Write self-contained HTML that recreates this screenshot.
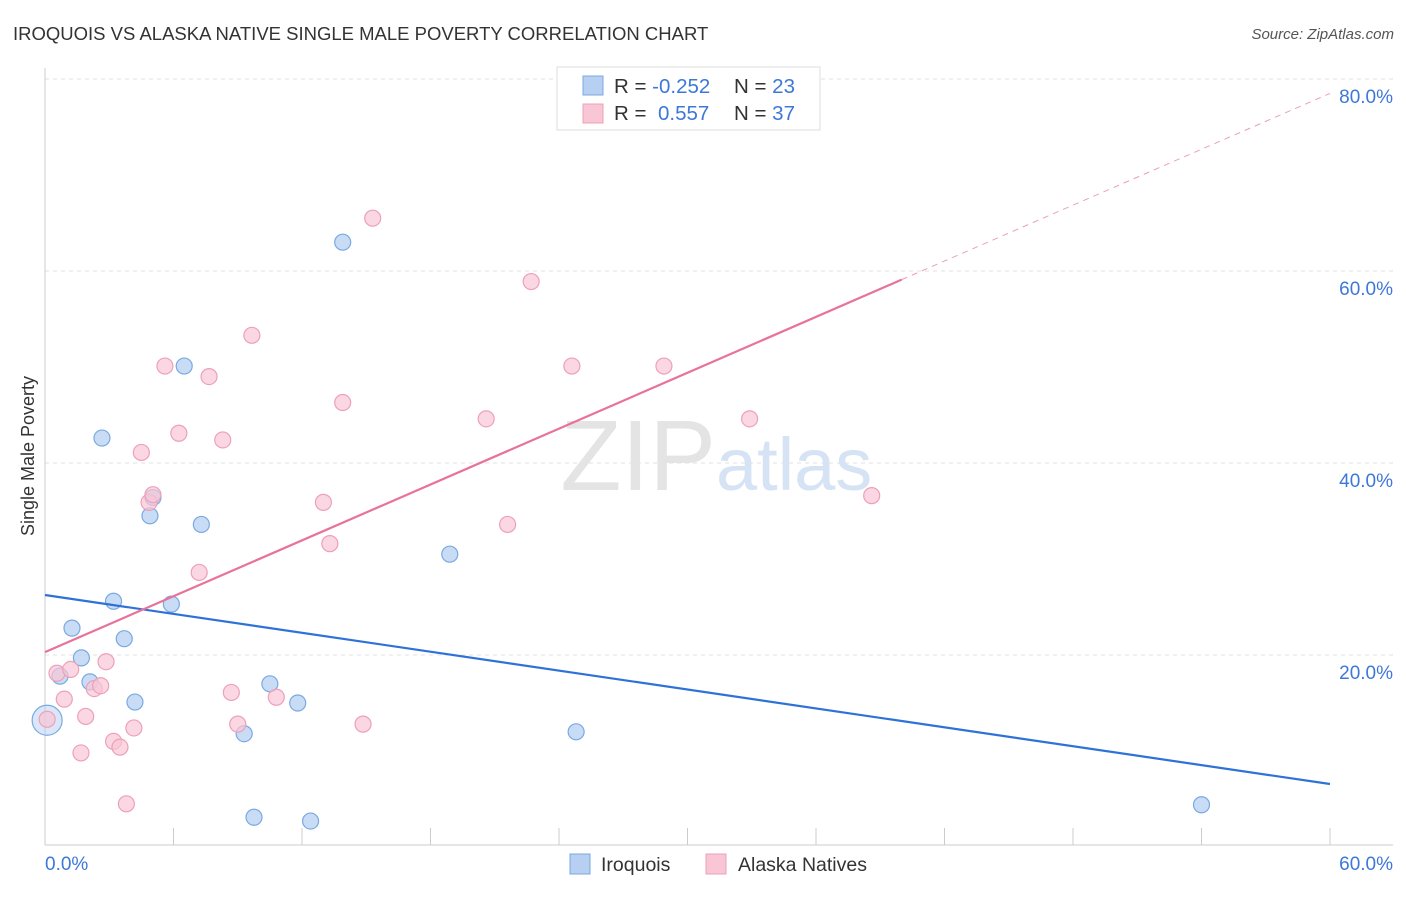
<!DOCTYPE html>
<html><head><meta charset="utf-8"><style>
body{margin:0;background:#fff;font-family:"Liberation Sans",sans-serif;}
svg text{font-family:"Liberation Sans",sans-serif;}
</style></head><body>
<svg id="chart" width="1406" height="892" xmlns="http://www.w3.org/2000/svg">
<text x="13" y="40" font-size="18.5" fill="#333">IROQUOIS VS ALASKA NATIVE SINGLE MALE POVERTY CORRELATION CHART</text>
<text x="1394" y="39" font-size="15" fill="#555" text-anchor="end" font-style="italic">Source: ZipAtlas.com</text>
<g id="grid"></g>
<text x="716" y="490" font-size="100" fill="#e4e4e4" text-anchor="end" font-family="Liberation Serif">ZIP</text>
<text x="716" y="490" font-size="74" fill="#d5e3f5">atlas</text>
<g id="marks"></g>
<text transform="translate(34,456) rotate(-90)" font-size="18" fill="#333" text-anchor="middle">Single Male Poverty</text>
<g>
<rect x="557" y="67" width="263" height="63" fill="#fff" stroke="#ddd"/>
<rect x="583" y="76" width="20" height="19" fill="#b7d0f2" stroke="#7aa9e2"/>
<rect x="583" y="104" width="20" height="19" fill="#f8c6d5" stroke="#eea0b8"/>
<text x="614" y="93" font-size="20.5" fill="#333">R = <tspan fill="#3d78d8">-0.252</tspan><tspan x="734">N = </tspan><tspan fill="#3d78d8">23</tspan></text>
<text x="614" y="120" font-size="20.5" fill="#333">R = <tspan x="658" fill="#3d78d8">0.557</tspan><tspan x="734">N = </tspan><tspan fill="#3d78d8">37</tspan></text>
</g>
<g>
<rect x="570" y="854" width="20" height="20" fill="#b7d0f2" stroke="#7aa9e2"/>
<text x="601" y="871" font-size="19.5" fill="#333">Iroquois</text>
<rect x="706" y="854" width="20" height="20" fill="#f8c6d5" stroke="#eea0b8"/>
<text x="738" y="871" font-size="19.5" fill="#333">Alaska Natives</text>
</g>
</svg>
<script>
const yTicks=[20,40,60,80];
const xTickLabels=["0.0%","60.0%"];
const iroX=[0.1,0.7,1.26,1.7,2.1,2.66,3.2,3.7,4.2,4.9,5.04,5.9,6.5,7.3,9.3,9.76,10.5,11.8,12.4,13.9,18.9,24.8,54.0];
const iroY=[13.2,17.8,22.8,19.7,17.2,42.6,25.6,21.7,15.1,34.5,36.4,25.3,50.1,33.6,11.8,3.1,17.0,15.0,2.7,63.0,30.5,12.0,4.4];
const akX=[0.1,0.56,0.9,1.2,1.68,1.9,2.3,2.6,2.85,3.2,3.5,3.8,4.15,4.5,4.86,5.04,5.6,6.25,7.2,7.66,8.3,8.7,9.0,9.66,10.8,13.0,13.3,13.9,14.85,15.3,20.6,21.6,22.7,24.6,28.9,32.9,38.6];
const akY=[13.3,18.1,15.4,18.5,9.8,13.6,16.5,16.8,19.3,11.0,10.4,4.5,12.4,41.1,35.9,36.7,50.1,43.1,28.6,49.0,42.4,16.1,12.8,53.3,15.6,35.9,31.6,46.3,12.8,65.5,44.6,33.6,58.9,50.1,50.1,44.6,36.6];
const iroTrend=[26.25,6.56];
const akTrend=[20.3,78.5];
const NS="http://www.w3.org/2000/svg";
const X=v=>45+v*(1285/60), Y=v=>847-v*9.6;
function mk(t,a,p){const e=document.createElementNS(NS,t);for(const k in a)e.setAttribute(k,a[k]);p.appendChild(e);return e;}
const g=document.getElementById('grid'), m=document.getElementById('marks');
yTicks.forEach(t=>{
 const l=mk('line',{x1:45,x2:1393,y1:Y(t),y2:Y(t),stroke:'#e2e2e2','stroke-dasharray':'4,4'},g);
 
 
 const tx=mk('text',{x:1393,y:Y(t)+24,'font-size':19,fill:'#3d78d8','text-anchor':'end'},g);
 tx.textContent=t.toFixed(1)+'%';
 
 
});
mk('line',{x1:45,x2:45,y1:68,y2:845,stroke:'#ccc'},g);
mk('line',{x1:45,x2:1393,y1:845,y2:845,stroke:'#ccc'},g);
for(let i=0;i<=10;i++){const l=mk('line',{x1:X(i*6),x2:X(i*6),y1:828,y2:845,stroke:'#ccc'},g);
 
 }
xTickLabels.forEach((s,i)=>{const tx=mk('text',{x:i?1393:45,y:870,'font-size':19,fill:'#3d78d8','text-anchor':i?'end':'start'},g);tx.textContent=s;
 
 });
iroX.forEach((x,i)=>{const c=mk('circle',{cx:X(x),cy:Y(iroY[i]),r:i===0?15:8,fill:'#b7d0f2','fill-opacity':i===0?0.5:0.75,stroke:'#7aa9e2','stroke-width':1.2},m);
 
 });
akX.forEach((x,i)=>{const c=mk('circle',{cx:X(x),cy:Y(akY[i]),r:8,fill:'#f8c6d5','fill-opacity':0.7,stroke:'#eea0b8','stroke-width':1.2},m);
 
 });
const ay=x=>akTrend[0]+(akTrend[1]-akTrend[0])*x/60;
let l=mk('line',{x1:X(0),y1:Y(iroTrend[0]),x2:X(60),y2:Y(iroTrend[1]),stroke:'#2e72d8','stroke-width':2.2},m);


l=mk('line',{x1:X(0),y1:Y(ay(0)),x2:X(40),y2:Y(ay(40)),stroke:'#e8729a','stroke-width':2.2},m);


l=mk('line',{x1:X(40),y1:Y(ay(40)),x2:X(60),y2:Y(ay(60)),stroke:'#eaa0b8','stroke-width':1,'stroke-dasharray':'6,5'},m);


</script>
</body></html>
